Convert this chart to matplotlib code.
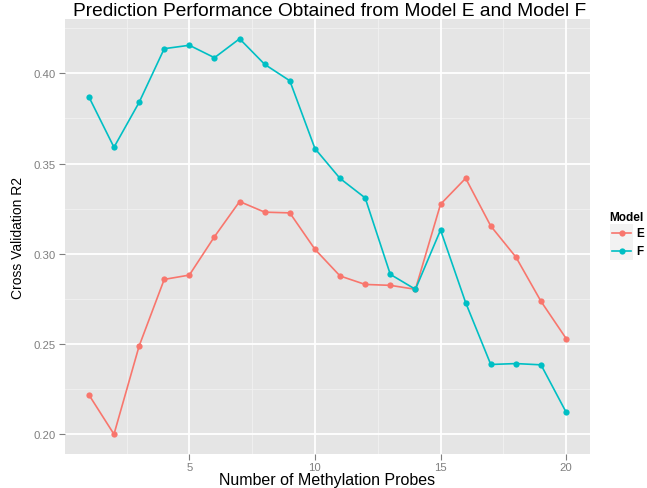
import matplotlib
matplotlib.use("Agg")
import matplotlib.pyplot as plt
from matplotlib.lines import Line2D
from matplotlib.patches import Rectangle

probes = list(range(1, 21))
model_E = [0.2217, 0.1998, 0.2487, 0.2857, 0.2881, 0.3094, 0.3289, 0.3230, 0.3226, 0.3024,
           0.2876, 0.2829, 0.2824, 0.2802, 0.3274, 0.3418, 0.3153, 0.2981, 0.2735, 0.2529]
model_F = [0.3870, 0.3590, 0.3839, 0.4137, 0.4156, 0.4087, 0.4192, 0.4050, 0.3959, 0.3583,
           0.3417, 0.3309, 0.2885, 0.2802, 0.3131, 0.2728, 0.2385, 0.2390, 0.2383, 0.2120]
series_names = ["E", "F"]
series_values = [model_E, model_F]
colors = ["#F8766D", "#00BFC4"]
x_ticks = [5, 10, 15, 20]
y_ticks = [0.20, 0.25, 0.30, 0.35, 0.40]
y_tick_labels = ["0.20", "0.25", "0.30", "0.35", "0.40"]

plt.rcParams['font.family'] = ['Liberation Sans', 'DejaVu Sans']

fig = plt.figure(figsize=(6.47, 4.89), dpi=100)
W, H = 647, 489
ax = fig.add_axes([65 / W, 1 - 455 / H, (590 - 65) / W, (455 - 20) / H])
ax.set_facecolor("#E5E5E5")
for s in ax.spines.values():
    s.set_visible(False)

# ggplot-like expansion
allv = model_E + model_F
lo, hi = min(allv), max(allv)
pad = (hi - lo) * 0.05
ax.set_ylim(lo - pad, hi + pad)
xpad = (max(probes) - min(probes)) * 0.05
ax.set_xlim(min(probes) - xpad, max(probes) + xpad)

# grid
for xv in [2.5, 7.5, 12.5, 17.5]:
    ax.axvline(xv, color="#F2F2F2", lw=0.6, zorder=0.5)
for yv in [0.225, 0.275, 0.325, 0.375, 0.425]:
    ax.axhline(yv, color="#F2F2F2", lw=0.6, zorder=0.5)
for xv in x_ticks:
    ax.axvline(xv, color="white", lw=1.3, zorder=0.6)
for yv in y_ticks:
    ax.axhline(yv, color="white", lw=1.3, zorder=0.6)

for name, vals, c in zip(series_names, series_values, colors):
    ax.plot(probes, vals, color=c, lw=1.2, marker="o", markersize=4.5,
            markeredgewidth=0, zorder=3, label=name)

ax.set_xticks(x_ticks)
ax.set_xticklabels([str(v) for v in x_ticks])
ax.set_yticks(y_ticks)
ax.set_yticklabels(y_tick_labels)
ax.tick_params(axis="both", colors="#7F7F7F", labelcolor="#7F7F7F",
               labelsize=8.2, length=4, width=0.8)
ax.tick_params(axis="x", pad=1.5)
ax.tick_params(axis="y", pad=3)

fig.text(327.5 / W, 1 - 481 / H, "Number of Methylation Probes", fontsize=11.5,
         color="black", ha="center", va="center")
ax.set_ylabel("Cross Validation R2", fontsize=10, color="black", labelpad=6,
              family=['Liberation Sans Narrow', 'Liberation Sans', 'DejaVu Sans'])
fig.text(330 / W, 1 - 12 / H, "Prediction Performance Obtained from Model E and Model F",
         fontsize=13.8, color="black", ha="center", va="center")

# legend drawn manually (ggplot style)
fig.text(609 / W, 1 - 218 / H, "Model", fontsize=8.5, fontweight="bold",
         ha="left", va="center")
for i, (name, c) in enumerate(zip(series_names, colors)):
    yc = 234 + 18 * i
    fig.patches.append(Rectangle((610 / W, 1 - (yc + 9) / H), 23 / W, 18 / H,
                                 transform=fig.transFigure, facecolor="#F2F2F2",
                                 edgecolor="none"))
    fig.lines.append(Line2D([612 / W, 631 / W], [1 - yc / H, 1 - yc / H],
                            transform=fig.transFigure, color=c, lw=1.2))
    fig.lines.append(Line2D([621.5 / W], [1 - yc / H], transform=fig.transFigure,
                            color=c, marker="o", markersize=4.5, markeredgewidth=0))
    fig.text(636 / W, 1 - yc / H, name, fontsize=8.5, fontweight="bold",
             ha="left", va="center")

fig.savefig("out.png", dpi=100, facecolor="white")
